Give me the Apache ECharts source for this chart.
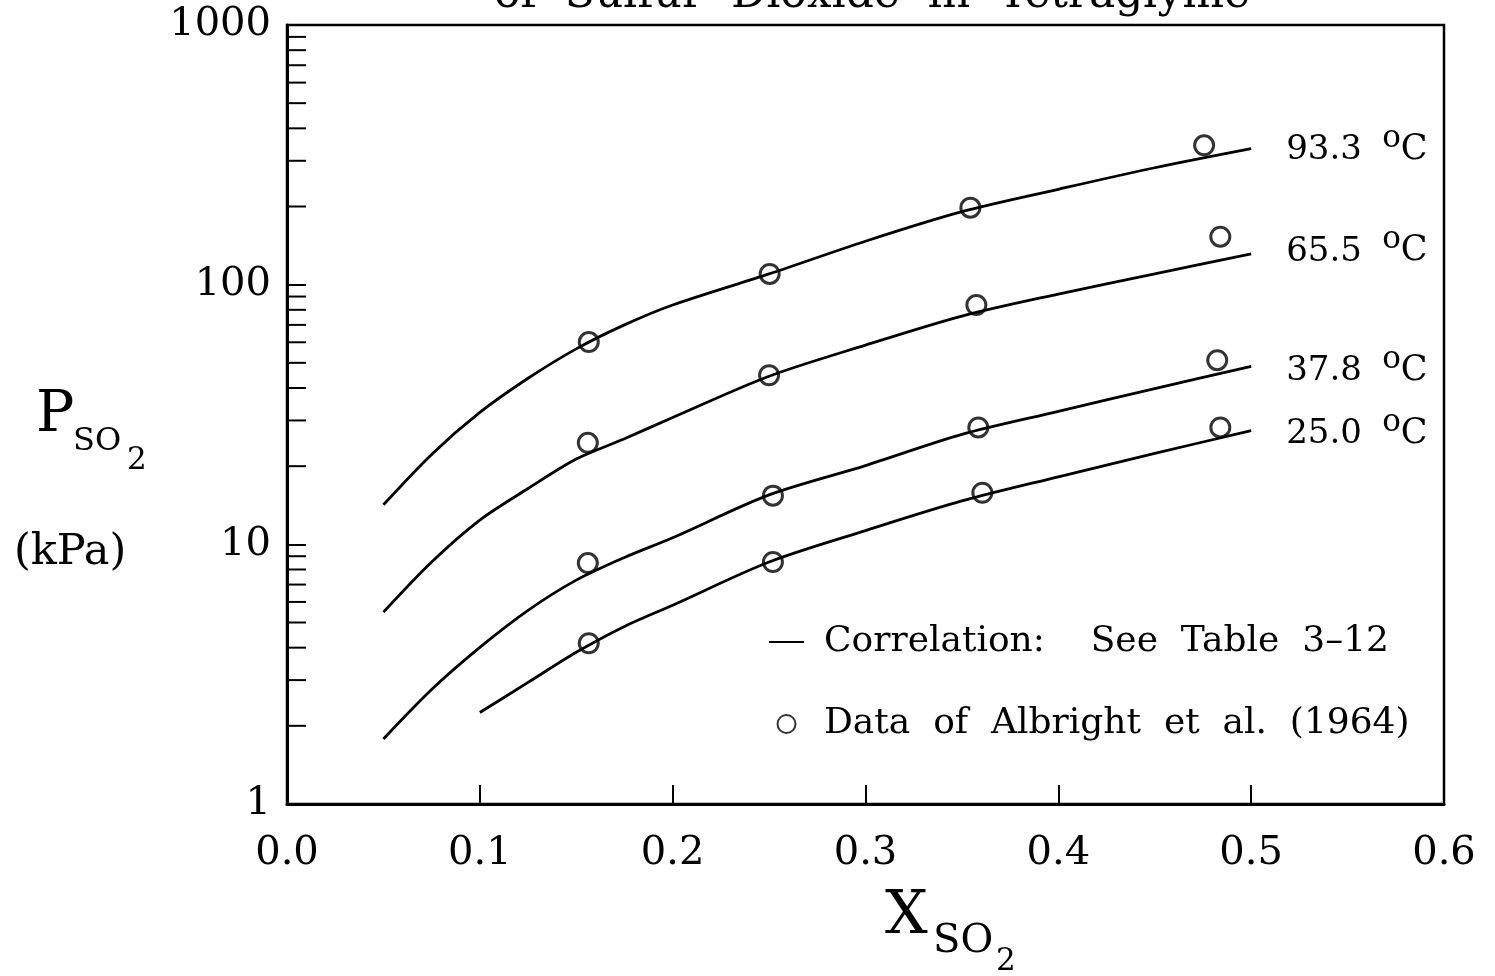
<!DOCTYPE html>
<html>
<head>
<meta charset="utf-8">
<script src="https://cdn.jsdelivr.net/npm/echarts@6/dist/echarts.min.js"></script>
<style>html,body{margin:0;padding:0;background:#fff}#c{width:1495px;height:976px}</style>
</head>
<body>
<div id="c"></div>
<script>
// ---- data ----
const curveX = [0.05, 0.075, 0.1, 0.125, 0.15, 0.175, 0.2, 0.25, 0.3, 0.35, 0.4, 0.45, 0.5];
const curve933 = [14.2, 22.2, 32.2, 43.6, 56.6, 70, 83.5, 110, 147, 191, 233, 282, 334];
const curve655 = [5.48, 8.55, 12.4, 16.4, 21.3, 25.5, 30.8, 44.4, 58.5, 75.7, 92, 110, 131.5];
const curve378 = [1.78, 2.76, 4.01, 5.57, 7.28, 8.9, 10.6, 15.5, 20.1, 26.5, 32.5, 39.8, 48.5];
const curveX25 = [0.1, 0.125, 0.15, 0.175, 0.2, 0.25, 0.3, 0.35, 0.4, 0.45, 0.5];
const curve250 = [2.25, 2.94, 3.84, 4.83, 5.83, 8.55, 11.3, 14.7, 18.2, 22.4, 27.4];

const ptsX933 = [0.1565, 0.2503, 0.3544, 0.4756];
const ptsY933 = [60.1, 110, 198, 344];
const ptsX655 = [0.156, 0.250, 0.3575, 0.484];
const ptsY655 = [24.6, 44.8, 83.5, 153];
const ptsX378 = [0.156, 0.252, 0.3585, 0.4824];
const ptsY378 = [8.47, 15.4, 28.2, 51.2];
const ptsX250 = [0.1565, 0.252, 0.3606, 0.484];
const ptsY250 = [4.16, 8.55, 15.8, 28.2];

const tempLabels = ['93.3', '65.5', '37.8', '25.0'];
const xTicks = [0, 0.1, 0.2, 0.3, 0.4, 0.5, 0.6];
const yTickLabels = ['1', '10', '100', '1000'];
const minorTickVals = [2,3,4,5,6,7,8,9,20,30,40,50,60,70,80,90,200,300,400,500,600,700,800,900];

const corrName = 'Correlation:    See  Table  3\u201312';
const dataName = 'Data  of  Albright  et  al.  (1964)';
const titleText = 'of  Sulfur  Dioxide  in  Tetraglyme';

const FONT = 'DejaVu Serif';

const zip = (xs, ys) => xs.map((x, i) => [x, ys[i]]);

const curves = [
  {x: curveX, y: curve933, dy: -3.5},
  {x: curveX, y: curve655, dy: -7},
  {x: curveX, y: curve378, dy: 0},
  {x: curveX25, y: curve250, dy: -1}
];

const lineSeries = curves.map((c, i) => ({
  type: 'line',
  name: corrName,
  data: zip(c.x, c.y),
  smooth: 0.3,
  symbol: 'none',
  lineStyle: {color: '#000', width: 2.8},
  itemStyle: {color: '#000'},
  z: 2,
  endLabel: {
    show: true,
    distance: 35,
    offset: [0, c.dy],
    formatter: () => '{n|' + tempLabels[i] + '} {o|o}{c|C}',
    rich: {
      n: {fontFamily: FONT, fontSize: 34, color: '#000', lineHeight: 34, verticalAlign: 'bottom'},
      o: {fontFamily: FONT, fontSize: 31, color: '#000', lineHeight: 44, verticalAlign: 'top', padding: [0, 0, 0, 17]},
      c: {fontFamily: FONT, fontSize: 35, color: '#000', lineHeight: 34, verticalAlign: 'bottom'}
    }
  }
}));

const scatterData = [].concat(
  zip(ptsX933, ptsY933), zip(ptsX655, ptsY655), zip(ptsX378, ptsY378), zip(ptsX250, ptsY250)
);

const option = {
  backgroundColor: '#fff',
  animation: false,
  grid: {left: 287, right: 51, top: 25, bottom: 172, show: true, borderColor: '#000', borderWidth: 2.5, backgroundColor: 'transparent'},
  xAxis: {
    type: 'value', min: 0, max: 0.6, interval: 0.1,
    axisLine: {show: true, lineStyle: {color: '#000', width: 3}},
    axisTick: {show: true, inside: true, length: 19, lineStyle: {color: '#000', width: 2}},
    splitLine: {show: false},
    axisLabel: {
      margin: 30, color: '#000', fontFamily: FONT, fontSize: 40,
      formatter: v => xTicks.includes(Math.round(v * 10) / 10) ? v.toFixed(1) : ''
    }
  },
  yAxis: {
    type: 'log', logBase: 10, min: 1, max: 1000,
    axisLine: {show: true, lineStyle: {color: '#000', width: 3}},
    axisTick: {show: true, inside: true, length: 19, lineStyle: {color: '#000', width: 2}},
    splitLine: {show: false},
    minorTick: {show: false},
    axisLabel: {
      margin: 16, color: '#000', fontFamily: FONT, fontSize: 40,
      formatter: v => yTickLabels[Math.round(Math.log10(v))]
    }
  },
  legend: {
    orient: 'vertical', left: 764, top: 619,
    itemWidth: 35, itemHeight: 18, itemGap: 46,
    selectedMode: false,
    textStyle: {fontFamily: FONT, fontSize: 36, color: '#000', lineHeight: 36, padding: [0, 0, 0, 15]},
    data: [
      {name: corrName, icon: 'path://M0,0 L35,0 L35,2.2 L0,2.2 Z'},
      {name: dataName}
    ]
  },
  graphic: [
    {type: 'text', x: 872, y: -4, style: {text: titleText, x: 0, y: 0, fontFamily: FONT, fontSize: 44, fill: '#000', textAlign: 'center', verticalAlign: 'middle'}},
    {type: 'text', style: {text: 'P', x: 36, y: 416, fontFamily: FONT, fontSize: 57, fill: '#000', verticalAlign: 'middle'}},
    {type: 'text', style: {text: 'SO', x: 73, y: 442, fontFamily: FONT, fontSize: 32, fill: '#000', verticalAlign: 'middle'}},
    {type: 'text', style: {text: '2', x: 127, y: 461, fontFamily: FONT, fontSize: 31, fill: '#000', verticalAlign: 'middle'}},
    {type: 'text', style: {text: '(kPa)', x: 14, y: 553, fontFamily: FONT, fontSize: 43, fill: '#000', verticalAlign: 'middle'}},
    {type: 'text', style: {text: 'X', x: 885, y: 917, fontFamily: FONT, fontSize: 60, fill: '#000', verticalAlign: 'middle'}},
    {type: 'text', style: {text: 'SO', x: 933, y: 942, fontFamily: FONT, fontSize: 40, fill: '#000', verticalAlign: 'middle'}},
    {type: 'text', style: {text: '2', x: 996, y: 962, fontFamily: FONT, fontSize: 31, fill: '#000', verticalAlign: 'middle'}}
  ],
  series: lineSeries.concat([
    {
      type: 'scatter',
      name: dataName,
      data: scatterData,
      symbol: 'circle',
      symbolSize: 19,
      itemStyle: {color: 'transparent', borderColor: '#000', borderWidth: 3},
      z: 3
    },
    {
      type: 'custom',
      name: 'minorTicks',
      silent: true,
      clip: false,
      data: minorTickVals.map(v => [0, v]),
      renderItem: (params, api) => {
        const p = api.coord([api.value(0), api.value(1)]);
        return {type: 'line', shape: {x1: p[0], y1: p[1], x2: p[0] + 19, y2: p[1]}, style: {stroke: '#000', lineWidth: 2}};
      },
      z: 4
    }
  ])
};

const chart = echarts.init(document.getElementById('c'), null, {renderer: 'canvas'});
chart.setOption(option);
</script>
</body>
</html>
